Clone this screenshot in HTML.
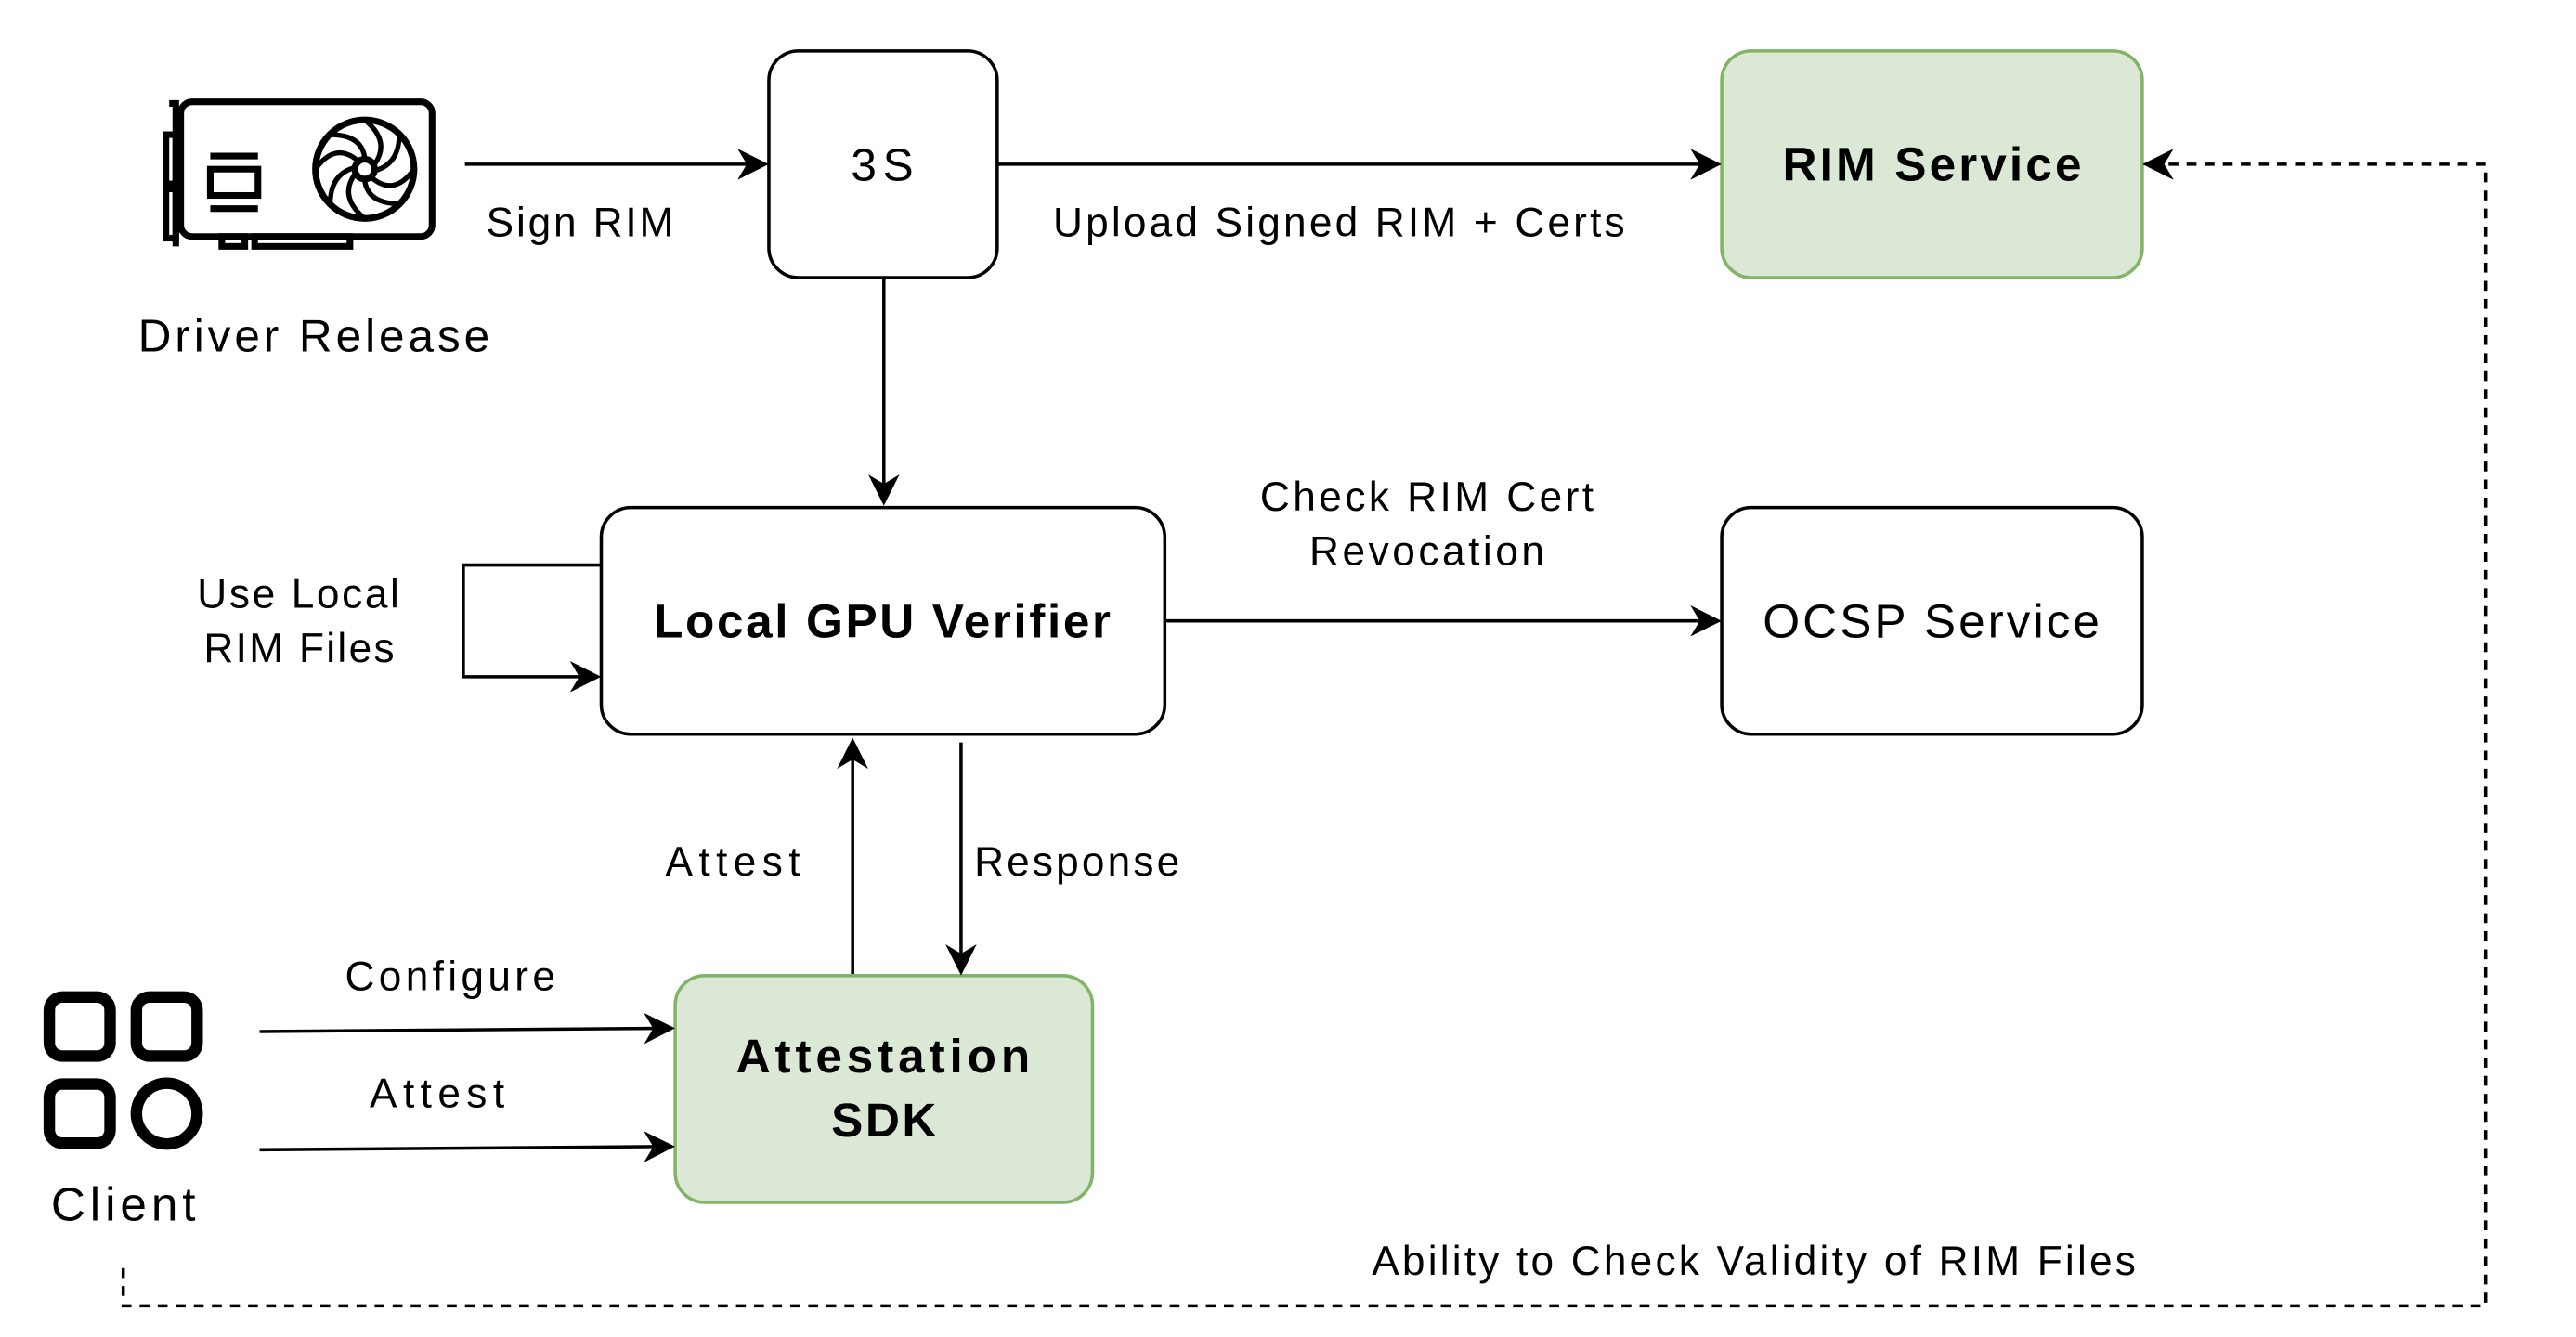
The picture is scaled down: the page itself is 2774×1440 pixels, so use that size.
<!DOCTYPE html>
<html><head><meta charset="utf-8"><style>
html,body{margin:0;padding:0;background:#fff;}
svg{display:block;}
text{font-family:"Liberation Sans","DejaVu Sans",sans-serif;fill:#000;}
</style></head><body>
<svg width="2774" height="1440" viewBox="0 0 1568 814" preserveAspectRatio="none" xmlns="http://www.w3.org/2000/svg">
<defs>
<marker id="b" viewBox="0 0 10 10" refX="9" refY="5" markerWidth="19" markerHeight="19" orient="auto" markerUnits="userSpaceOnUse">
<path d="M0,0 L10,5 L0,10 L3,5 Z" fill="#000"/></marker>
</defs>
<rect width="1568" height="814" fill="#fff"/>
<!-- GPU icon -->
<g fill="none" stroke="#000" stroke-width="4">
<path d="M103,63 L107,63 L107,150"/>
<rect x="110" y="62" width="153" height="82" rx="7"/>
<rect x="101" y="82" width="6" height="30"/><rect x="101" y="115" width="6" height="30"/>
<path d="M128,95 H157 M128,127 H157"/><rect x="128" y="103" width="29" height="16"/>
<circle cx="222" cy="103" r="30"/><circle cx="222" cy="103" r="6"/>
<path d="M222,73 Q238,86 228,100 M252,103 Q240,120 226,108 M222,133 Q206,120 216,106 M192,103 Q204,86 218,98 M243,82 Q243,100 228,104 M243,124 Q224,124 222,110 M201,124 Q201,106 216,102 M201,82 Q220,82 222,96" stroke-width="3"/>
<rect x="135" y="144" width="14" height="6"/><rect x="155" y="144" width="58" height="6"/>
</g>
<text x="84" y="214" font-size="28" textLength="214" lengthAdjust="spacing">Driver Release</text>
<!-- boxes -->
<rect x="468" y="31" width="139" height="138" rx="18" fill="#fff" stroke="#000" stroke-width="2"/>
<text x="518" y="110" font-size="28" textLength="38" lengthAdjust="spacing">3S</text>
<rect x="1048" y="31" width="256" height="138" rx="18" fill="#dae8d5" stroke="#82b366" stroke-width="2"/>
<text x="1085" y="110" font-size="29" font-weight="bold" textLength="182" lengthAdjust="spacing">RIM Service</text>
<rect x="366" y="309" width="343" height="138" rx="18" fill="#fff" stroke="#000" stroke-width="2"/>
<text x="398" y="388" font-size="29" font-weight="bold" textLength="278" lengthAdjust="spacing">Local GPU Verifier</text>
<rect x="1048" y="309" width="256" height="138" rx="18" fill="#fff" stroke="#000" stroke-width="2"/>
<text x="1073" y="388" font-size="29" textLength="205" lengthAdjust="spacing">OCSP Service</text>
<rect x="411" y="594" width="254" height="138" rx="18" fill="#dae8d5" stroke="#82b366" stroke-width="2"/>
<text x="448" y="653" font-size="29" font-weight="bold" textLength="179" lengthAdjust="spacing">Attestation</text>
<text x="506" y="692" font-size="29" font-weight="bold" textLength="64" lengthAdjust="spacing">SDK</text>
<!-- arrows -->
<g stroke="#000" stroke-width="2" fill="none">
<path d="M283,100 H466" marker-end="url(#b)"/>
<path d="M607,100 H1046" marker-end="url(#b)"/>
<path d="M538,169 V306" marker-end="url(#b)"/>
<path d="M366,344 H282 V412 H364" marker-end="url(#b)"/>
<path d="M709,378 H1046" marker-end="url(#b)"/>
<path d="M519,593 V451" marker-end="url(#b)"/>
<path d="M585,452 V592" marker-end="url(#b)"/>
<path d="M158,628 L409,626" marker-end="url(#b)"/>
<path d="M158,700 L409,698" marker-end="url(#b)"/>
<path d="M75,772 V795 H1513 V100 H1306" stroke-dasharray="6,5" marker-end="url(#b)"/>
</g>
<!-- labels -->
<g font-size="25">
<text x="296" y="144" textLength="114" lengthAdjust="spacing">Sign RIM</text>
<text x="641" y="144" textLength="348" lengthAdjust="spacing">Upload Signed RIM + Certs</text>
<text x="120" y="370" textLength="123" lengthAdjust="spacing">Use Local</text>
<text x="124" y="403" textLength="116" lengthAdjust="spacing">RIM Files</text>
<text x="767" y="311" textLength="203" lengthAdjust="spacing">Check RIM Cert</text>
<text x="797" y="344" textLength="143" lengthAdjust="spacing">Revocation</text>
<text x="405" y="533" textLength="82" lengthAdjust="spacing">Attest</text>
<text x="593" y="533" textLength="125" lengthAdjust="spacing">Response</text>
<text x="210" y="603" textLength="128" lengthAdjust="spacing">Configure</text>
<text x="225" y="674" textLength="82" lengthAdjust="spacing">Attest</text>
<text x="835" y="776" textLength="465" lengthAdjust="spacing">Ability to Check Validity of RIM Files</text>
</g>
<!-- client icon -->
<g fill="none" stroke="#000" stroke-width="7">
<rect x="30" y="607" width="37" height="36" rx="8"/>
<rect x="83" y="607" width="37" height="36" rx="8"/>
<rect x="30" y="660" width="37" height="36" rx="8"/>
<circle cx="101.5" cy="678" r="18.5"/>
</g>
<text x="31" y="743" font-size="29" textLength="88" lengthAdjust="spacing">Client</text>
</svg>
</body></html>
